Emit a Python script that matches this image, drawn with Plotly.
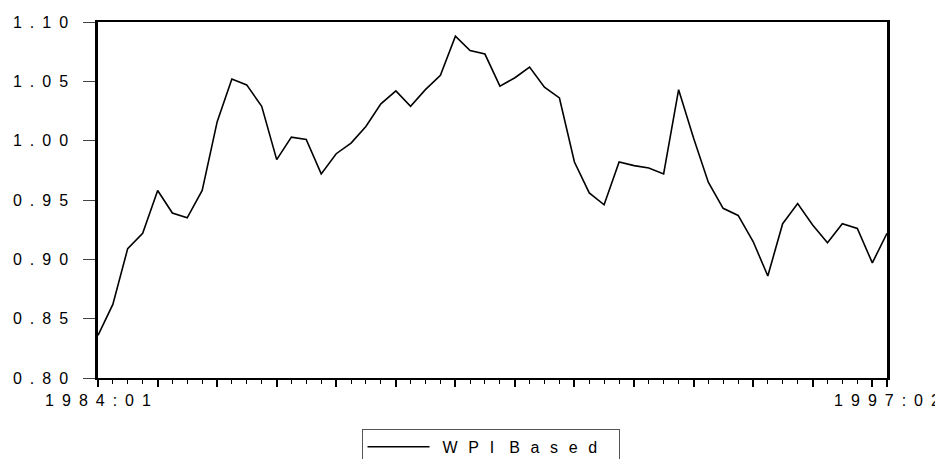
import pandas as pd
import plotly.graph_objects as go

# quarterly real exchange rate, WPI based, 1984:01 - 1997:02
quarters = pd.period_range("1984Q1", "1997Q2", freq="Q").to_timestamp()
wpi_based = [
    0.836, 0.862, 0.909, 0.922, 0.958, 0.939, 0.935, 0.958,
    1.016, 1.052, 1.047, 1.029, 0.984, 1.003, 1.001, 0.972,
    0.989, 0.998, 1.012, 1.031, 1.042, 1.029, 1.043, 1.055,
    1.088, 1.076, 1.073, 1.046, 1.053, 1.062, 1.045, 1.036,
    0.982, 0.956, 0.946, 0.982, 0.979, 0.977, 0.972, 1.043,
    1.002, 0.965, 0.943, 0.937, 0.915, 0.886, 0.930, 0.947,
    0.929, 0.914, 0.930, 0.926, 0.897, 0.922,
]
y_ticks = [0.80, 0.85, 0.90, 0.95, 1.00, 1.05, 1.10]
y_labels = ["0.80", "0.85", "0.90", "0.95", "1.00", "1.05", "1.10"]
x_labels = ["1984:01", "1997:02"]
series_name = "WPI Based"

sp = "\u2002"  # wide gaps between characters, like the original


def spaced(s, gap=sp):
    # letter-spaced text; a word break gets one extra plain space
    return (gap + " ").join(gap.join(w) for w in s.split(" "))


font = dict(family="Liberation Sans, Arial", size=16, color="black")

fig = go.Figure()
fig.add_trace(go.Scatter(x=quarters, y=wpi_based, mode="lines",
                         name="\u2002" + spaced(series_name, "\u2002\u200a\u200a") + "\u2002\u2002",
                         line=dict(color="black", width=1.6)))

# major ticks once a year, labels only at the ends
major = list(quarters[::4]) + [quarters[-1]]
major_text = [""] * len(major)
major_text[0] = spaced(x_labels[0])
major_text[-1] = spaced(x_labels[1])

fig.update_xaxes(range=[quarters[0], quarters[-1]], tickvals=major, ticktext=major_text,
                 ticks="outside", ticklen=7, tickwidth=1.5, tickcolor="black",
                 minor=dict(dtick="M3", tick0=quarters[0], ticks="outside", ticklen=4,
                            tickwidth=1, tickcolor="black", showgrid=False),
                 showline=True, linewidth=2, linecolor="black", mirror=True,
                 showgrid=False, zeroline=False, tickfont=font, automargin=False)
fig.update_yaxes(range=[0.80, 1.10], tickvals=y_ticks, ticktext=[spaced(t) for t in y_labels],
                 ticks="outside", ticklen=12, tickwidth=1, tickcolor="#444",
                 showline=True, linewidth=2.5, linecolor="black", mirror=True,
                 showgrid=False, zeroline=False, tickfont=font, ticklabelstandoff=12,
                 automargin=False)

# the page body adds an 8px offset, so margins are trimmed by that on the left/top
fig.update_layout(
    width=943, height=459,
    margin=dict(l=90, r=64, t=14, b=89),
    plot_bgcolor="white", paper_bgcolor="white",
    showlegend=True,
    legend=dict(x=0.4975, xanchor="center", yref="container", y=0.083, yanchor="top",
                bordercolor="#555", borderwidth=1, font=font,
                bgcolor="white", itemwidth=62),
)

fig.write_html("out.html")
